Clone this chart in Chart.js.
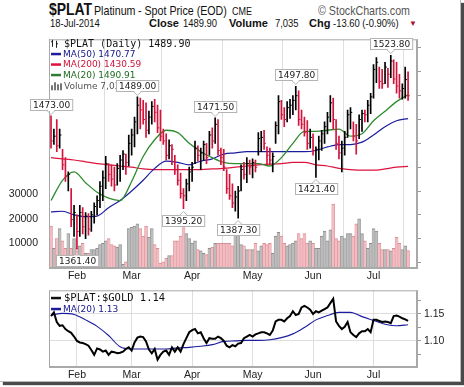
<!DOCTYPE html>
<html>
<head>
<meta charset="utf-8">
<script src="https://cdn.jsdelivr.net/npm/chart.js@4/dist/chart.umd.min.js"></script>
<style>
  body { margin: 0; background: #fff; width: 464px; height: 387px; overflow: hidden; position: relative;
         font-family: "Liberation Sans", Arial, sans-serif; color: #111; }
  .frame { position: absolute; left: 0; top: 0; width: 460px; height: 381px; border-right: 1px solid #bbb;
           border-bottom: 1px solid #bbb; box-shadow: 3px 3px 1px #4a4a4a; }
  .txt { position: absolute; white-space: nowrap; line-height: normal; }
  .narrow { transform: scaleX(0.82); transform-origin: left top; }
  canvas { position: absolute; left: 0; }
</style>
</head>
<body>
<div class="frame"></div>
<div class="txt narrow" style="left:49px;top:0px;font-size:17px;font-weight:bold;">$PLAT</div>
<div class="txt narrow" style="left:94px;top:3px;font-size:13px;">Platinum</div>
<div class="txt narrow" style="left:138px;top:3px;font-size:13px;">- Spot Price (EOD)</div>
<div class="txt narrow" style="left:232px;top:5px;font-size:11px;">CME</div>
<div class="txt narrow" style="left:318px;top:3px;font-size:13px;color:#555;">© StockCharts.com</div>
<div class="txt narrow" style="left:50px;top:17px;font-size:11.5px;">18-Jul-2014</div>
<div class="txt" style="left:149px;top:16.5px;font-size:11px;font-weight:bold;">Close</div>
<div class="txt narrow" style="left:183px;top:16.5px;font-size:11.5px;">1489.90</div>
<div class="txt" style="left:229px;top:16.5px;font-size:11px;font-weight:bold;">Volume</div>
<div class="txt narrow" style="left:275px;top:16.5px;font-size:11.5px;">7,035</div>
<div class="txt" style="left:309px;top:16.5px;font-size:11px;font-weight:bold;">Chg</div>
<div class="txt narrow" style="left:333px;top:16.5px;font-size:11.5px;">-13.60 (-0.90%)</div>
<div class="txt" style="left:409px;top:19px;font-size:8px;color:#b0102c;">▼</div>

<canvas id="mainChart" width="464" height="256" style="top:30px"></canvas>
<canvas id="ratioChart" width="464" height="106" style="top:281px"></canvas>

<script>
// $PLAT 日線：價格棒 + 均線 + 成交量，下方是 $PLAT:$GOLD 比值
// x 軸用交易日序號（0 = 2014-01-21），月份標籤放在每月第一個交易日

const monthIdx = [9, 28, 49, 70, 91, 112];
const monthNames = ["Feb", "Mar", "Apr", "May", "Jun", "Jul"];

const highs = [
    1473, 1462, 1470, 1462, 1445, 1438, 1426, 1412, 1398,
    1390, 1398, 1396, 1392, 1391, 1393, 1400, 1406, 1418, 1427, 1439, 1433, 1432, 1430, 1433, 1440, 1444, 1441, 1457,
    1462, 1472, 1489, 1488, 1486, 1484, 1477, 1485, 1487, 1482, 1478, 1462, 1458, 1453, 1449, 1440, 1432, 1425, 1412, 1420, 1430,
    1434, 1452, 1448, 1446, 1452, 1450, 1460, 1463, 1471.5, 1470, 1446, 1445, 1428, 1424, 1416, 1410, 1414, 1432, 1434, 1438, 1436,
    1437, 1436, 1459, 1460, 1461, 1447, 1446, 1442, 1468, 1490, 1486, 1480, 1485, 1487, 1490, 1497.8, 1494, 1478, 1472, 1469, 1462,
    1458, 1447, 1456, 1461, 1468, 1476, 1490, 1488, 1470, 1456, 1452, 1460, 1478, 1480, 1468, 1466, 1474, 1478, 1478, 1486, 1492,
    1516, 1522, 1514, 1512, 1518, 1513, 1523.8, 1520, 1518, 1508, 1500, 1514, 1510
];
const lows = [
    1446, 1449, 1443, 1446, 1428, 1418, 1410, 1380, 1372,
    1361.4, 1372, 1374, 1370, 1373, 1376, 1383, 1390, 1396, 1402, 1412, 1418, 1414, 1410, 1415, 1418, 1428, 1424, 1431,
    1440, 1447, 1458, 1462, 1466, 1455, 1458, 1466, 1468, 1459, 1452, 1449, 1436, 1437, 1432, 1424, 1415, 1404, 1395.2, 1402, 1410,
    1418, 1433, 1435, 1428, 1436, 1433, 1440, 1446, 1450, 1440, 1432, 1427, 1408, 1403, 1396, 1393, 1387.3, 1410, 1420, 1417, 1424,
    1421, 1426, 1440, 1443, 1445, 1432, 1432, 1426, 1450, 1458, 1470, 1464, 1468, 1471, 1474, 1478, 1465, 1462, 1456, 1445, 1446,
    1440, 1421.4, 1436, 1444, 1450, 1458, 1468, 1462, 1445, 1437, 1426, 1440, 1455, 1462, 1452, 1441, 1454, 1460, 1468, 1468, 1475,
    1488, 1501, 1496, 1496, 1500, 1497, 1505, 1500, 1492, 1488, 1487, 1488, 1486
];
const closes = [
    1452, 1456, 1448, 1457, 1432, 1422, 1424, 1386, 1392,
    1376, 1392, 1380, 1389, 1378, 1390, 1397, 1402, 1414, 1421, 1433, 1424, 1420, 1415, 1429, 1436, 1441, 1434, 1450,
    1457, 1468, 1482, 1478, 1470, 1461, 1472, 1481, 1476, 1463, 1456, 1452, 1440, 1448, 1445, 1428, 1419, 1408, 1406, 1416, 1426,
    1430, 1446, 1440, 1442, 1449, 1438, 1457, 1452, 1466, 1444, 1438, 1430, 1412, 1406, 1400, 1405, 1410, 1428, 1424, 1433, 1430,
    1434, 1430, 1454, 1455, 1450, 1440, 1436, 1439, 1465, 1485, 1474, 1470, 1480, 1482, 1486, 1490, 1470, 1466, 1459, 1450, 1455,
    1444, 1445, 1452, 1458, 1464, 1472, 1484, 1470, 1450, 1442, 1446, 1455, 1474, 1476, 1456, 1452, 1470, 1475, 1474, 1482, 1489,
    1512, 1518, 1502, 1500, 1514, 1508, 1519, 1504, 1498, 1494, 1496, 1503.5, 1489.9
];
const priorClose = 1460; // 1/17 收盤，只用來判斷第一根的顏色
const volumes = [
    17000, 8000, 12000, 16000, 11000, 8000, 14000, 8000, 12000,
    8000, 9000, 10000, 6000, 6000, 7500, 7500, 8000, 9500, 10000, 11000, 12000, 9500, 9000, 8500, 9500, 1500, 2500, 16000,
    16500, 17000, 18000, 16000, 13000, 17000, 12500, 16000, 9500, 8000, 2000, 2500, 4000, 5000, 5000, 11000, 11000, 13000, 18000, 14000, 12000,
    10000, 11000, 7500, 7000, 6000, 5500, 8000, 8500, 10000, 10000, 10000, 10000, 10000, 10000, 9000, 14000, 14000, 9500, 9000, 7500, 7500,
    7500, 10000, 7000, 9000, 10000, 9500, 10000, 6000, 13000, 14500, 13000, 10000, 9000, 9500, 10000, 11000, 14000, 12000, 14000, 10000, 11000,
    10000, 8000, 8000, 13000, 15000, 11000, 15500, 26000, 12000, 11000, 13000, 12000, 14000, 14000, 13000, 18000, 20000, 14000, 11000, 8000, 10000,
    16000, 15000, 10000, 7500, 7500, 7500, 7000, 8000, 12500, 10000, 7500, 9000, 7035
];

// 均線讀值（每4個交易日一點）
const maIdx = [0, 4, 8, 12, 16, 20, 24, 28, 32, 36, 40, 44, 48, 52, 56, 60, 64, 68, 72, 76, 80, 84, 88, 92, 96, 100, 104, 108, 112, 116, 120, 124];
const ma20 = [1402, 1419, 1426, 1417, 1409, 1404, 1402, 1418, 1439, 1453, 1461, 1459, 1450, 1443, 1438, 1434,
              1433, 1433, 1433, 1431, 1438, 1450, 1460, 1460, 1461, 1462, 1456, 1458, 1469, 1477, 1485, 1490.91];
const ma50 = [1392.5, 1393, 1390, 1388.5, 1389, 1396, 1402, 1410, 1419, 1429, 1435, 1434, 1432, 1435, 1437, 1441,
              1442, 1443, 1443, 1443, 1443, 1443, 1443, 1444, 1447, 1449, 1449, 1451, 1457, 1464, 1469, 1470.77];
const ma200 = [1438, 1437, 1436, 1434.5, 1433, 1432, 1431, 1430, 1428.5, 1428, 1428, 1428, 1428, 1428, 1428.5, 1429,
               1430, 1431, 1432, 1432.5, 1433, 1434, 1434, 1432, 1431, 1429, 1428, 1427.5, 1427.5, 1428.5, 1430, 1430.59];

const ratio = [
    1.146, 1.153, 1.135, 1.128, 1.129, 1.122, 1.118, 1.115, 1.108,
    1.100, 1.097, 1.096, 1.094, 1.091, 1.083, 1.074, 1.086, 1.084, 1.080, 1.082, 1.074, 1.080, 1.079, 1.077, 1.078, 1.080, 1.085, 1.088,
    1.082, 1.097, 1.106, 1.108, 1.107, 1.099, 1.084, 1.077, 1.085, 1.065, 1.074, 1.080, 1.082, 1.074, 1.088, 1.080, 1.088, 1.080, 1.094, 1.105, 1.116,
    1.120, 1.122, 1.114, 1.116, 1.105, 1.096, 1.105, 1.104, 1.104, 1.108, 1.105, 1.100, 1.091, 1.088, 1.092, 1.090, 1.095, 1.096, 1.105, 1.108, 1.111,
    1.108, 1.112, 1.114, 1.116, 1.116, 1.114, 1.111, 1.119, 1.136, 1.139, 1.139, 1.136, 1.142, 1.146, 1.155, 1.148, 1.150, 1.162, 1.165, 1.162, 1.158,
    1.150, 1.155, 1.153, 1.156, 1.159, 1.162, 1.170, 1.178, 1.136, 1.128, 1.122, 1.126, 1.135, 1.116, 1.111, 1.107, 1.114, 1.118, 1.118, 1.122, 1.116,
    1.139, 1.139, 1.137, 1.135, 1.136, 1.135, 1.133, 1.146, 1.147, 1.145, 1.142, 1.140, 1.137
];
const ratioMa20 = [1.148, 1.151, 1.149, 1.139, 1.127, 1.110, 1.089, 1.085, 1.085, 1.085, 1.085, 1.087, 1.088, 1.090, 1.093, 1.099,
                   1.100, 1.101, 1.101, 1.102, 1.106, 1.113, 1.125, 1.139, 1.147, 1.153, 1.153, 1.145, 1.138, 1.131, 1.128, 1.130];

const priceLabelTicks = [1360, 1380, 1400, 1420, 1440, 1460, 1480, 1500, 1520];
const priceMinorTicks = [1350, 1370, 1390, 1410, 1430, 1450, 1470, 1490, 1510, 1530];
const volTicks = [10000, 20000, 30000];
const ratioLabelTicks = [1.10, 1.15];
const ratioMinorTicks = [1.075, 1.125, 1.175];

// 高低點標註
const peakIdx = [0, 30, 57, 85, 118];
const troughIdx = [9, 46, 65, 92];

const UP_COLOR = "#000000";
const DOWN_COLOR = "#d4123a";
const X_MIN = -0.7;
const X_MAX = 127.1;

const isDown = closes.map((c, i) => c < (i === 0 ? priorClose : closes[i - 1]));
const barColors = isDown.map((d) => (d ? DOWN_COLOR : UP_COLOR));
const maPoints = (values) => values.map((v, k) => ({ x: maIdx[k], y: v }));

const numFont = { family: "Liberation Sans, Arial, sans-serif", size: 10.5 };
const monthFont = { family: "Liberation Sans, Arial, sans-serif", size: 10.5 };

function monthAxis(height) {
    return {
        type: "linear", min: X_MIN, max: X_MAX, offset: false,
        afterBuildTicks: (scale) => { scale.ticks = monthIdx.map((v) => ({ value: v })); },
        afterFit: (scale) => { scale.height = height; },
        ticks: { autoSkip: false, maxRotation: 0, padding: 2, color: "#222", font: monthFont,
                 callback: (v) => monthNames[monthIdx.indexOf(v)] || "" },
        grid: { color: "#dedede", drawTicks: false },
        border: { color: "#aaa" }
    };
}

function drawBox(ctx, text, cx, yEdge, above) {
    ctx.font = "9px 'DejaVu Sans', sans-serif";
    const w = ctx.measureText(text).width + 5;
    const h = 11;
    const top = above ? yEdge - 6 - h : yEdge + 6;
    const left = Math.round(cx - w / 2) + 0.5;
    ctx.fillStyle = "#fff";
    ctx.strokeStyle = "#b4b4b4";
    ctx.lineWidth = 1;
    ctx.fillRect(left, Math.round(top) + 0.5, w, h);
    ctx.strokeRect(left, Math.round(top) + 0.5, w, h);
    // 小三角指向價格棒
    const baseY = above ? Math.round(top) + 0.5 + h : Math.round(top) + 0.5;
    const tipY = above ? baseY + 4 : baseY - 4;
    ctx.beginPath();
    ctx.moveTo(cx - 4, baseY);
    ctx.lineTo(cx, tipY);
    ctx.lineTo(cx + 4, baseY);
    ctx.stroke();
    ctx.fillRect(cx - 3, above ? baseY - 1 : baseY, 6, 1.5);
    ctx.fillStyle = "#222";
    ctx.textAlign = "center";
    ctx.textBaseline = "middle";
    ctx.fillText(text, left + w / 2, Math.round(top) + 0.5 + h / 2 + 0.5);
}

function legendRow(ctx, x, y, color, textColor, text) {
    ctx.fillStyle = color;
    ctx.fillRect(x, y - 1, 10, 2.5);
    ctx.fillStyle = textColor;
    ctx.font = "9px 'DejaVu Sans', sans-serif";
    ctx.textAlign = "left";
    ctx.textBaseline = "middle";
    ctx.fillText(text, x + 12, y + 0.5);
}

const mainExtras = {
    id: "mainExtras",
    afterDatasetsDraw(chart) {
        const { ctx, chartArea: a, scales } = chart;
        ctx.save();
        ctx.strokeStyle = "#a8a8a8";
        ctx.lineWidth = 1;
        ctx.strokeRect(a.left + 0.5, a.top + 0.5, a.right - a.left - 1, a.bottom - a.top - 1);

        // 圖例
        const lx = a.left + 2;
        let y = a.top + 4.5;
        ctx.strokeStyle = "#222";
        ctx.beginPath();
        ctx.moveTo(lx + 1.5, y - 4); ctx.lineTo(lx + 1.5, y + 3);
        ctx.moveTo(lx, y - 2); ctx.lineTo(lx + 1.5, y - 2);
        ctx.moveTo(lx + 5.5, y - 3); ctx.lineTo(lx + 5.5, y + 4);
        ctx.moveTo(lx + 5.5, y); ctx.lineTo(lx + 7, y);
        ctx.stroke();
        ctx.fillStyle = "#111";
        ctx.font = "10px 'DejaVu Sans Mono', monospace";
        ctx.textAlign = "left";
        ctx.textBaseline = "middle";
        ctx.fillText("$PLAT (Daily) " + closes[closes.length - 1].toFixed(2), lx + 13, y + 0.5);

        legendRow(ctx, lx, a.top + 14.5, "#1c1c9e", "#14148c", "MA(50) " + ma50[ma50.length - 1].toFixed(2));
        legendRow(ctx, lx, a.top + 25, "#dc143c", "#d0123a", "MA(200) " + ma200[ma200.length - 1].toFixed(2));
        legendRow(ctx, lx, a.top + 35.5, "#2e7d32", "#1f6b1f", "MA(20) " + ma20[ma20.length - 1].toFixed(2));

        y = a.top + 47;
        ctx.fillStyle = "#777";
        ctx.fillRect(lx, y - 1, 2, 5);
        ctx.fillRect(lx + 3, y - 4, 2, 8);
        ctx.fillRect(lx + 6, y - 2, 2, 6);
        ctx.fillRect(lx + 9, y - 3, 2, 7);
        ctx.fillStyle = "#555";
        ctx.font = "9px 'DejaVu Sans', sans-serif";
        ctx.fillText("Volume " + volumes[volumes.length - 1].toLocaleString("en-US"), lx + 13, y + 0.5);

        // 高低點標註
        peakIdx.forEach((i) => {
            drawBox(ctx, highs[i].toFixed(2), scales.x.getPixelForValue(i), scales.y.getPixelForValue(highs[i]), true);
        });
        troughIdx.forEach((i) => {
            drawBox(ctx, lows[i].toFixed(2), scales.x.getPixelForValue(i), scales.y.getPixelForValue(lows[i]), false);
        });
        ctx.restore();
    }
};

new Chart(document.getElementById("mainChart"), {
    type: "bar",
    data: {
        datasets: [
            {
                type: "line", label: "close", order: 0,
                data: closes.map((c, i) => ({ x: i, y: c })),
                showLine: false, pointStyle: "dash", pointRadius: 1.8, pointBorderWidth: 1,
                pointBorderColor: barColors, pointBackgroundColor: barColors
            },
            {
                label: "range", order: 1, grouped: false,
                data: highs.map((h, i) => ({ x: i, y: [lows[i], h] })),
                backgroundColor: barColors, barThickness: 1, borderWidth: 0
            },
            {
                type: "line", label: "MA20", order: 2, data: maPoints(ma20),
                borderColor: "#2e8b2e", borderWidth: 1.3, pointRadius: 0, cubicInterpolationMode: "monotone"
            },
            {
                type: "line", label: "MA50", order: 3, data: maPoints(ma50),
                borderColor: "#1c1c9e", borderWidth: 1.2, pointRadius: 0, cubicInterpolationMode: "monotone"
            },
            {
                type: "line", label: "MA200", order: 4, data: maPoints(ma200),
                borderColor: "#dc143c", borderWidth: 1.2, pointRadius: 0, cubicInterpolationMode: "monotone"
            },
            {
                label: "volume", order: 10, grouped: false, yAxisID: "vol",
                data: volumes.map((v, i) => ({ x: i, y: v })),
                backgroundColor: isDown.map((d) => (d ? "#f2bcc1" : "#bcbcbc")),
                borderColor: isDown.map((d) => (d ? "#d98d96" : "#8e8e8e")),
                borderWidth: { top: 1, left: 0.5, right: 0.5, bottom: 0 },
                barThickness: 2.9
            }
        ]
    },
    options: {
        responsive: false, animation: false, devicePixelRatio: 1, events: [],
        layout: { padding: { top: 2, left: 0, right: 0, bottom: 0 }, autoPadding: false },
        plugins: { legend: { display: false }, tooltip: { enabled: false } },
        scales: {
            x: monthAxis(18),
            y: {
                position: "right", min: 1345.4, max: 1537.3,
                afterBuildTicks: (scale) => {
                    scale.ticks = priceLabelTicks.concat(priceMinorTicks).sort((p, q) => p - q).map((v) => ({ value: v }));
                },
                afterFit: (scale) => { scale.width = 47; },
                ticks: { color: "#222", font: numFont, padding: 3,
                         callback: (v) => (priceLabelTicks.includes(v) ? String(v) : "") },
                grid: {
                    color: (c) => (c.tick && priceLabelTicks.includes(c.tick.value) ? "#dedede" : "rgba(0,0,0,0)"),
                    tickColor: "#999", tickLength: 4
                },
                border: { color: "#aaa" }
            },
            vol: {
                position: "left", min: 0, max: 93000,
                afterBuildTicks: (scale) => { scale.ticks = volTicks.map((v) => ({ value: v })); },
                afterFit: (scale) => { scale.width = 49; },
                ticks: { color: "#222", font: numFont, padding: 3, callback: (v) => String(v) },
                grid: { display: false },
                border: { color: "#aaa" }
            }
        }
    },
    plugins: [mainExtras]
});

const ratioExtras = {
    id: "ratioExtras",
    afterDatasetsDraw(chart) {
        const { ctx, chartArea: a } = chart;
        ctx.save();
        ctx.strokeStyle = "#a8a8a8";
        ctx.lineWidth = 1;
        ctx.strokeRect(a.left + 0.5, a.top + 0.5, a.right - a.left - 1, a.bottom - a.top - 1);
        const lx = a.left + 2;
        ctx.fillStyle = "#111";
        ctx.fillRect(lx, a.top + 6.5, 10, 2.5);
        ctx.font = "10.5px 'DejaVu Sans Mono', monospace";
        ctx.textAlign = "left";
        ctx.textBaseline = "middle";
        ctx.fillText("$PLAT:$GOLD " + ratio[ratio.length - 1].toFixed(2), lx + 13, a.top + 8);
        legendRow(ctx, lx, a.top + 18.5, "#1c1c9e", "#14148c", "MA(20) " + ratioMa20[ratioMa20.length - 1].toFixed(2));
        ctx.restore();
    }
};

new Chart(document.getElementById("ratioChart"), {
    type: "line",
    data: {
        datasets: [
            {
                label: "$PLAT:$GOLD", order: 0,
                data: ratio.map((v, i) => ({ x: i, y: v })),
                borderColor: "#000", borderWidth: 2, pointRadius: 0, tension: 0
            },
            {
                label: "MA20", order: 1, data: maIdx.map((x, k) => ({ x: x, y: ratioMa20[k] })),
                borderColor: "#1c1c9e", borderWidth: 1.1, pointRadius: 0, cubicInterpolationMode: "monotone"
            }
        ]
    },
    options: {
        responsive: false, animation: false, devicePixelRatio: 1, events: [],
        layout: { padding: { top: 2, left: 49, right: 0, bottom: 0 }, autoPadding: false },
        plugins: { legend: { display: false }, tooltip: { enabled: false } },
        scales: {
            x: monthAxis(20),
            y: {
                position: "right", min: 1.0515, max: 1.1939,
                afterBuildTicks: (scale) => {
                    scale.ticks = ratioLabelTicks.concat(ratioMinorTicks).sort((p, q) => p - q).map((v) => ({ value: v }));
                },
                afterFit: (scale) => { scale.width = 47; },
                ticks: { color: "#222", font: numFont, padding: 3,
                         callback: (v) => (ratioLabelTicks.includes(v) ? v.toFixed(2) : "") },
                grid: {
                    color: (c) => (c.tick && ratioLabelTicks.includes(c.tick.value) ? "#dedede" : "rgba(0,0,0,0)"),
                    tickColor: "#999", tickLength: 4
                },
                border: { color: "#aaa" }
            }
        }
    },
    plugins: [ratioExtras]
});
</script>
</body>
</html>
